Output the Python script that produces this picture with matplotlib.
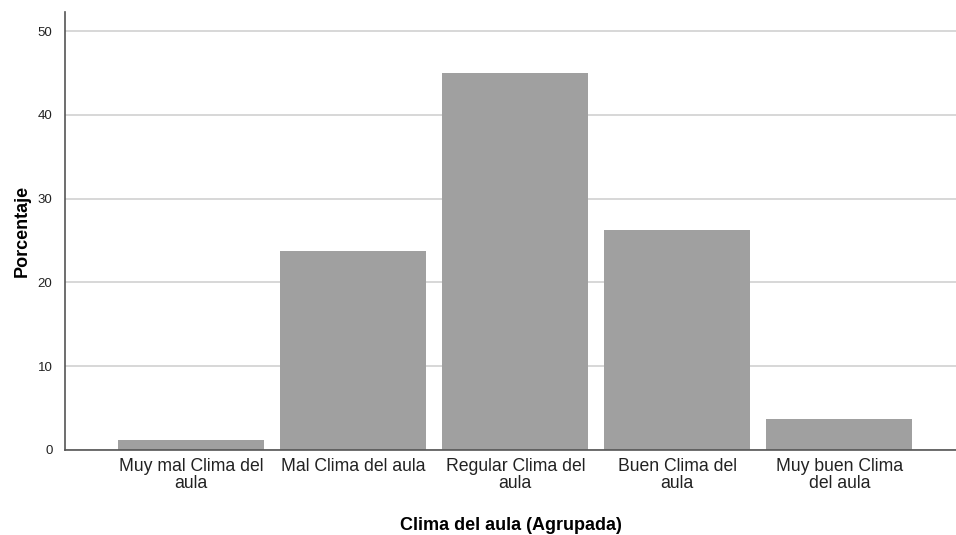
import matplotlib
matplotlib.use("Agg")
from matplotlib import pyplot as plt
import numpy as np

# Categories and percentages
categories = ["Muy mal Clima del\naula", "Mal Clima del aula", "Regular Clima del\naula",
              "Buen Clima del\naula", "Muy buen Clima\ndel aula"]
porcentaje = [1.2, 23.8, 45.0, 26.3, 3.7]
y_ticks = [0, 10, 20, 30, 40, 50]

plt.rcParams['font.family'] = ['Liberation Sans', 'DejaVu Sans']

fig = plt.figure(figsize=(9.56, 5.35), dpi=100)
ax = fig.add_axes([0.068, 0.159, 0.932, 0.819])

x = np.arange(len(categories))
ax.set_axisbelow(True)
ax.yaxis.grid(True, color="#d4d4d4", linewidth=1.3)
ax.bar(x, porcentaje, width=0.9, color="#a0a0a0")

ax.set_xlim(-0.78, 4.72)
ax.set_ylim(0, 52.3)
ax.set_yticks(y_ticks)
ax.set_xticks(x)
ax.set_xticklabels(categories, fontsize=12.7, color="#222222", linespacing=1.0)
ax.tick_params(axis="x", length=0, pad=6)
ax.tick_params(axis="y", length=0, pad=9, labelsize=9.5, labelcolor="#222222")

for s in ["top", "right"]:
    ax.spines[s].set_visible(False)
ax.spines["left"].set_color("#555555")
ax.spines["bottom"].set_color("#555555")
ax.spines["left"].set_linewidth(1.2)
ax.spines["bottom"].set_linewidth(1.2)

ax.set_ylabel("Porcentaje", fontsize=13, fontweight="bold", labelpad=5)
ax.set_xlabel("Clima del aula (Agrupada)", fontsize=13, fontweight="bold", labelpad=18)

plt.savefig("out.png", dpi=100)
